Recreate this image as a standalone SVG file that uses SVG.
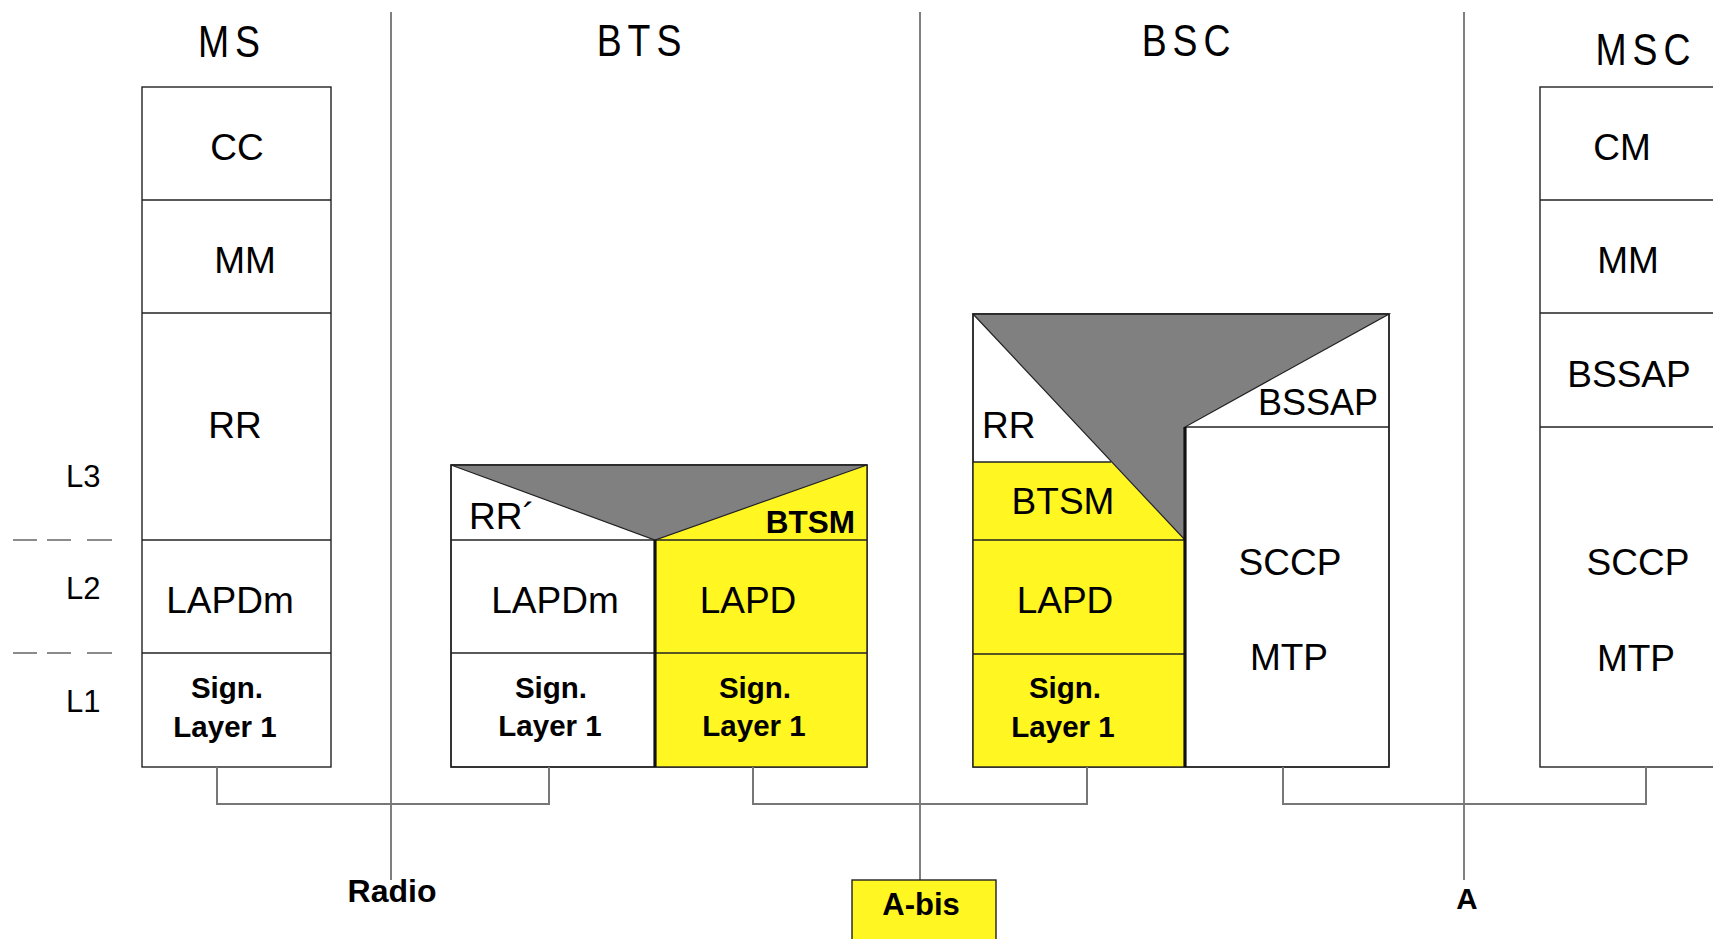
<svg xmlns="http://www.w3.org/2000/svg" width="1713" height="939" viewBox="0 0 1713 939">
<style>
text{font-family:"Liberation Sans",Arial,sans-serif;fill:#000}
.t{font-size:37px}
.b{font-size:29.5px;font-weight:bold}
.h{font-size:44px;letter-spacing:7px}
.l{font-size:31px}
.box{fill:#fff;stroke:#222;stroke-width:1.4}
.ln{stroke:#222;stroke-width:1.4;fill:none}
.thick{stroke:#111;stroke-width:3.2;fill:none}
.yel{fill:#fff622}
.gry{fill:#808080;stroke:#222;stroke-width:1.2}
.sep{stroke:#555;stroke-width:1.5;fill:none}
.con{stroke:#777;stroke-width:2;fill:none}
.dash{stroke:#666;stroke-width:1.5;stroke-dasharray:24 10 24 16 25 100}
</style>

<g id="separators">
<line class="sep" x1="391" y1="12" x2="391" y2="880"/>
<line class="sep" x1="920" y1="12" x2="920" y2="880"/>
<line class="sep" x1="1464" y1="12" x2="1464" y2="880"/>
</g>

<g id="headers">
<g transform="translate(232,57) scale(0.85,1)"><text class="h" text-anchor="middle">MS</text></g>
<g transform="translate(642,56) scale(0.85,1)"><text class="h" text-anchor="middle">BTS</text></g>
<g transform="translate(1189,56) scale(0.85,1)"><text class="h" text-anchor="middle">BSC</text></g>
<g transform="translate(1646,65) scale(0.85,1)"><text class="h" text-anchor="middle">MSC</text></g>
</g>

<g id="layers">
<line class="dash" x1="13" y1="540" x2="112" y2="540"/>
<line class="dash" x1="13" y1="653" x2="112" y2="653"/>
<text class="l" x="66" y="487">L3</text>
<text class="l" x="66" y="599">L2</text>
<text class="l" x="66" y="712">L1</text>
</g>

<g id="ms">
<rect class="box" x="142" y="87" width="189" height="680"/>
<line class="ln" x1="142" y1="200" x2="331" y2="200"/>
<line class="ln" x1="142" y1="313" x2="331" y2="313"/>
<line class="ln" x1="142" y1="540" x2="331" y2="540"/>
<line class="ln" x1="142" y1="653" x2="331" y2="653"/>
<text class="t" x="237" y="160" text-anchor="middle">CC</text>
<text class="t" x="245" y="273" text-anchor="middle">MM</text>
<text class="t" x="235" y="438" text-anchor="middle">RR</text>
<text class="t" x="230" y="613" text-anchor="middle">LAPDm</text>
<text class="b" x="227" y="698" text-anchor="middle">Sign.</text>
<text class="b" x="225" y="737" text-anchor="middle">Layer 1</text>
</g>

<g id="bts">
<rect class="box" x="451" y="465" width="416" height="302"/>
<polygon class="yel" points="655,540 867,465 867,767 655,767"/>
<polygon class="gry" points="451,465 867,465 655,540"/>
<rect class="ln" x="451" y="465" width="416" height="302"/>
<line class="ln" x1="451" y1="540" x2="867" y2="540"/>
<line class="ln" x1="451" y1="653" x2="867" y2="653"/>
<line class="thick" x1="655" y1="540" x2="655" y2="767"/>
<text class="t" x="469" y="529">RR´</text>
<text x="855" y="533" text-anchor="end" style="font-size:31.5px;font-weight:bold">BTSM</text>
<text class="t" x="555" y="613" text-anchor="middle">LAPDm</text>
<text class="t" x="748" y="613" text-anchor="middle">LAPD</text>
<text class="b" x="551" y="698" text-anchor="middle">Sign.</text>
<text class="b" x="550" y="736" text-anchor="middle">Layer 1</text>
<text class="b" x="755" y="698" text-anchor="middle">Sign.</text>
<text class="b" x="754" y="736" text-anchor="middle">Layer 1</text>
</g>

<g id="bsc">
<rect class="box" x="973" y="314" width="416" height="453"/>
<polygon class="yel" points="973,462 1111,462 1185,540 1185,767 973,767"/>
<polygon class="gry" points="973,314 1389,314 1185,427 1185,540"/>
<rect class="ln" x="973" y="314" width="416" height="453"/>
<line class="ln" x1="973" y1="462" x2="1111" y2="462"/>
<line class="ln" x1="973" y1="540" x2="1185" y2="540"/>
<line class="ln" x1="973" y1="654" x2="1185" y2="654"/>
<line class="ln" x1="1185" y1="427" x2="1389" y2="427"/>
<line class="thick" x1="1185" y1="427" x2="1185" y2="767"/>
<text class="t" x="982" y="438">RR</text>
<text class="t" x="1378" y="415" text-anchor="end" style="font-size:36px">BSSAP</text>
<text class="t" x="1063" y="514" text-anchor="middle">BTSM</text>
<text class="t" x="1065" y="613" text-anchor="middle">LAPD</text>
<text class="b" x="1065" y="698" text-anchor="middle">Sign.</text>
<text class="b" x="1063" y="737" text-anchor="middle">Layer 1</text>
<text class="t" x="1290" y="575" text-anchor="middle">SCCP</text>
<text class="t" x="1289" y="670" text-anchor="middle">MTP</text>
</g>

<g id="msc">
<rect class="box" x="1540" y="87" width="200" height="680"/>
<line class="ln" x1="1540" y1="200" x2="1713" y2="200"/>
<line class="ln" x1="1540" y1="313" x2="1713" y2="313"/>
<line class="ln" x1="1540" y1="427" x2="1713" y2="427"/>
<text class="t" x="1622" y="160" text-anchor="middle">CM</text>
<text class="t" x="1628" y="273" text-anchor="middle">MM</text>
<text class="t" x="1629" y="387" text-anchor="middle">BSSAP</text>
<text class="t" x="1638" y="575" text-anchor="middle">SCCP</text>
<text class="t" x="1636" y="671" text-anchor="middle">MTP</text>
</g>

<g id="connectors">
<polyline class="con" points="217,767 217,804 549,804 549,767"/>
<polyline class="con" points="753,767 753,804 1087,804 1087,767"/>
<polyline class="con" points="1283,767 1283,804 1646,804 1646,767"/>
</g>

<g id="labels">
<text class="b" x="392" y="902" text-anchor="middle" style="font-size:32px">Radio</text>
<text class="b" x="1467" y="909" text-anchor="middle">A</text>
</g>

<g id="abis">
<rect x="852" y="880" width="144" height="70" fill="#fff622" stroke="#222" stroke-width="1.4"/>
<text class="b" x="921" y="915" text-anchor="middle" style="font-size:31px">A-bis</text>
</g>
</svg>
